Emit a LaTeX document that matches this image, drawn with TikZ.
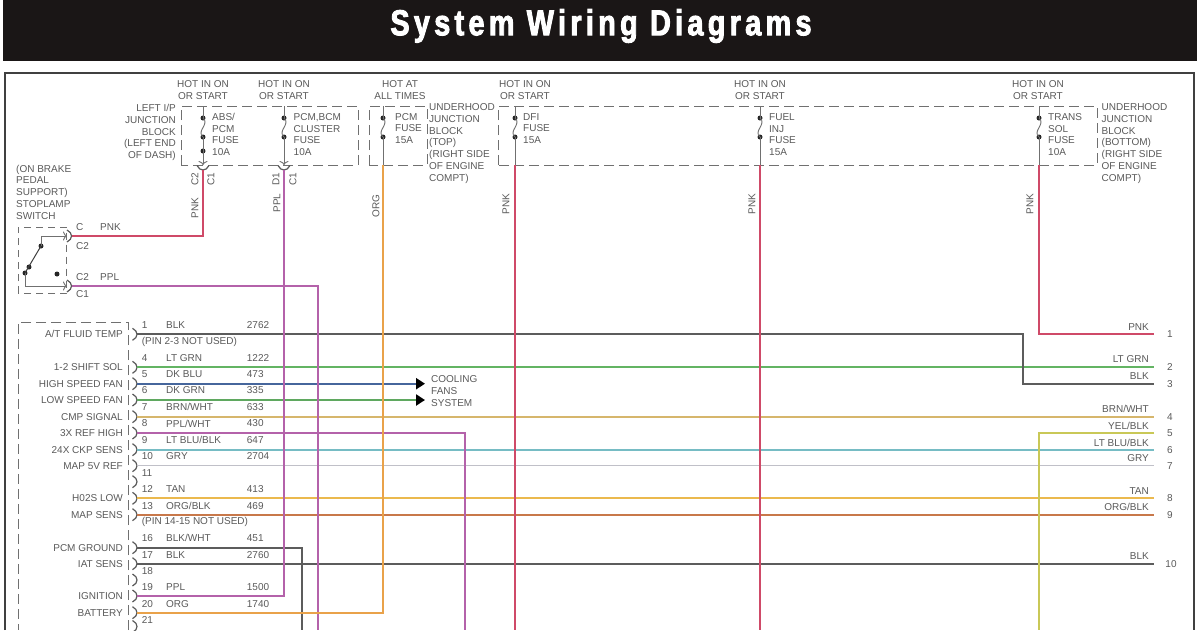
\documentclass[tikz,border=0pt]{standalone}
\usepackage{fontspec}
\setmainfont{Liberation Sans}
\newfontfamily\titlefont[FakeStretch=0.8,LetterSpace=12,FakeBold=2.5]{Liberation Sans Bold}
\usetikzlibrary{arrows, arrows.meta}
\definecolor{headblack}{HTML}{1A1616}
\definecolor{inkgray}{HTML}{5A5A5A}
\definecolor{dashgray}{HTML}{707070}
\definecolor{wpnk}{HTML}{CF4A68}
\definecolor{wppl}{HTML}{B462AA}
\definecolor{worg}{HTML}{E9A24A}
\definecolor{wblk}{HTML}{5C5C5C}
\definecolor{wltgrn}{HTML}{63B463}
\definecolor{wdkblu}{HTML}{46669C}
\definecolor{wdkgrn}{HTML}{5FA860}
\definecolor{wbrn}{HTML}{D6B66C}
\definecolor{wyel}{HTML}{C9C857}
\definecolor{wltblu}{HTML}{76BCC4}
\definecolor{wgry}{HTML}{C0C0C8}
\definecolor{wtan}{HTML}{EBB94E}
\definecolor{worgblk}{HTML}{C8784A}
\tikzstyle{lbl} = [inner sep=0pt,
text=inkgray,
align=left,
anchor=west,
font=\fontsize{10}{11.75}\selectfont]
\tikzstyle{lblr} = [lbl, align=right, anchor=east]
\tikzstyle{lblc} = [lbl, align=center, anchor=center]
\tikzstyle{lblv} = [lbl, anchor=center, rotate=90]
\tikzstyle{dot} = [circle, fill=black!85, inner sep=0pt, minimum size=5pt]
\tikzstyle{fine} = [draw=dashgray, line width=0.9pt]
\tikzstyle{blockline} = [draw=dashgray, line width=1pt, dash pattern=on 10pt off 5pt]
\tikzstyle{wire} = [line width=2.2pt]
\tikzstyle{tip} = [fine, -{To[length=4pt,width=9pt]}]
\tikzstyle{fanarrow} = [wire, -{Triangle[length=9pt,width=11pt,fill=black,color=black]}]
\tikzset{pinmark/.pic={\draw [draw=inkgray, line width=1.2pt] (-2.5,-6) .. controls (3.5,-3) and (3.5,3) .. (-2.5,6);}}

\begin{document}
\begin{tikzpicture}[x=1pt,y=-1pt]
    \useasboundingbox (0,0) rectangle (1200,630);
    \fill [fill=white] (0,0) rectangle (1200,630);
    \fill [fill=headblack] (3,0) rectangle (1197,61);
    \node (title) [text=white, inner sep=0pt, font=\titlefont\fontsize{36}{36}\selectfont] at (601,26) {System Wiring Diagrams};
    \draw [draw=black!75, line width=2pt] (5,630) -- (5,72.5) -- (1194,72.5) -- (1194,630);

    \node (hot1) [lblc] at (203,90) {HOT IN ON\\OR START};
    \node (hot2) [lblc] at (284,90) {HOT IN ON\\OR START};
    \node (hot3) [lblc] at (400,90) {HOT AT\\ALL TIMES};
    \node (hot4) [lblc] at (525,90) {HOT IN ON\\OR START};
    \node (hot5) [lblc] at (760,90) {HOT IN ON\\OR START};
    \node (hot6) [lblc] at (1038,90) {HOT IN ON\\OR START};

    \draw [blockline] (181,165) -- (181,106) -- (358,106) -- (358,165) -- cycle;
    \draw [blockline] (369,165) -- (369,106) -- (427,106) -- (427,165) -- cycle;
    \draw [blockline] (498,165) -- (498,106) -- (1097,106) -- (1097,165) -- cycle;

    \node (leftblock) [lblr] at (176,132.5) {LEFT I/P\\JUNCTION\\BLOCK\\(LEFT END\\OF DASH)};
    \node (topblock) [lbl] at (429,143.5) {UNDERHOOD\\JUNCTION\\BLOCK\\(TOP)\\(RIGHT SIDE\\OF ENGINE\\COMPT)};
    \node (botblock) [lbl] at (1101.5,143.5) {UNDERHOOD\\JUNCTION\\BLOCK\\(BOTTOM)\\(RIGHT SIDE\\OF ENGINE\\COMPT)};

    \node (absname) [lbl] at (212,134.5) {ABS/\\PCM\\FUSE\\10A};
    \node (bcmname) [lbl] at (293.5,134.5) {PCM,BCM\\CLUSTER\\FUSE\\10A};
    \node (pcmname) [lbl] at (395,128.5) {PCM\\FUSE\\15A};
    \node (dfiname) [lbl] at (523,128.5) {DFI\\FUSE\\15A};
    \node (fuelname) [lbl] at (769,134.5) {FUEL\\INJ\\FUSE\\15A};
    \node (transname) [lbl] at (1048,134.5) {TRANS\\SOL\\FUSE\\10A};

    \coordinate (abstop) at (203,106);
    \node (abst) [dot] at (203,118) {};
    \node (absb) [dot] at (203,137) {};
    \node (absc) [dot] at (203,151) {};
    \coordinate (absend) at (203,165);
    \draw [fine] (abstop) -- (abst.center);
    \draw [fine] (abst.center) .. controls +(7,6) and +(-7,-6) .. (absb.center);
    \draw [fine] (absb.center) -- (absc.center);
    \draw [tip] (absc.center) -- (absend);
    \pic [rotate=-90] at (203,168) {pinmark};

    \coordinate (bcmtop) at (284,106);
    \node (bcmt) [dot] at (284,118) {};
    \node (bcmb) [dot] at (284,137) {};
    \coordinate (bcmend) at (284,165);
    \draw [fine] (bcmtop) -- (bcmt.center);
    \draw [fine] (bcmt.center) .. controls +(7,6) and +(-7,-6) .. (bcmb.center);
    \draw [tip] (bcmb.center) -- (bcmend);
    \pic [rotate=-90] at (284,168) {pinmark};

    \coordinate (pcmtop) at (383,106);
    \node (pcmt) [dot] at (383,118) {};
    \node (pcmb) [dot] at (383,137) {};
    \coordinate (pcmend) at (383,165);
    \draw [fine] (pcmtop) -- (pcmt.center);
    \draw [fine] (pcmt.center) .. controls +(7,6) and +(-7,-6) .. (pcmb.center);
    \draw [fine] (pcmb.center) -- (pcmend);

    \coordinate (dfitop) at (515,106);
    \node (dfit) [dot] at (515,118) {};
    \node (dfib) [dot] at (515,137) {};
    \coordinate (dfiend) at (515,165);
    \draw [fine] (dfitop) -- (dfit.center);
    \draw [fine] (dfit.center) .. controls +(7,6) and +(-7,-6) .. (dfib.center);
    \draw [fine] (dfib.center) -- (dfiend);

    \coordinate (fueltop) at (760,106);
    \node (fuelt) [dot] at (760,118) {};
    \node (fuelb) [dot] at (760,137) {};
    \coordinate (fuelend) at (760,165);
    \draw [fine] (fueltop) -- (fuelt.center);
    \draw [fine] (fuelt.center) .. controls +(7,6) and +(-7,-6) .. (fuelb.center);
    \draw [fine] (fuelb.center) -- (fuelend);

    \coordinate (transtop) at (1039,106);
    \node (transt) [dot] at (1039,118) {};
    \node (transb) [dot] at (1039,137) {};
    \coordinate (transend) at (1039,165);
    \draw [fine] (transtop) -- (transt.center);
    \draw [fine] (transt.center) .. controls +(7,6) and +(-7,-6) .. (transb.center);
    \draw [fine] (transb.center) -- (transend);

    \node (c2a) [lblv] at (195,179) {C2};
    \node (c1a) [lblv] at (211,179) {C1};
    \node (pnka) [lblv] at (195,208) {PNK};
    \node (d1b) [lblv] at (276,179) {D1};
    \node (c1b) [lblv] at (293,179) {C1};
    \node (pplb) [lblv] at (277,203) {PPL};
    \node (orgc) [lblv] at (376,206) {ORG};
    \node (pnkd) [lblv] at (506,204) {PNK};
    \node (pnke) [lblv] at (752,204) {PNK};
    \node (pnkf) [lblv] at (1030,204) {PNK};

    \node (brakenote) [lbl] at (16,192) {(ON BRAKE\\PEDAL\\SUPPORT)\\STOPLAMP\\SWITCH};
    \draw [blockline, dash pattern=on 7pt off 5pt] (18,293) -- (18,227) -- (66.5,227) -- (66.5,293) -- cycle;
    \node (swpivot) [dot] at (25,273) {};
    \node (swblade) [dot] at (29,267) {};
    \node (swtop) [dot] at (41,246) {};
    \node (swopen) [dot] at (57,274) {};
    \coordinate (swbenda) at (41,236);
    \coordinate (swenda) at (67,236);
    \coordinate (swbendb) at (25,286);
    \coordinate (swendb) at (67,286);
    \draw [draw=black!75, line width=1pt] (swpivot.center) -- (swtop.center);
    \draw [fine] (swtop.center) -- (swbenda);
    \draw [tip] (swbenda) -- (swenda);
    \draw [fine] (swpivot.center) -- (swbendb);
    \draw [tip] (swbendb) -- (swendb);
    \pic at (69.5,236) {pinmark};
    \pic at (69.5,286) {pinmark};
    \node (swc) [lbl] at (76,227) {C};
    \node (swpnk) [lbl] at (100,227) {PNK};
    \node (swca) [lbl] at (76,246) {C2};
    \node (swcb) [lbl] at (76,277) {C2};
    \node (swppl) [lbl] at (100,277) {PPL};
    \node (swcc) [lbl] at (76,294) {C1};

    \draw [blockline] (128,630) -- (128,322) -- (18,322) -- (18,630);

    \node (fluid) [lblr] at (123,334.3) {A/T FLUID TEMP};
    \node (shift) [lblr] at (123,367.3) {1-2 SHIFT SOL};
    \node (hifan) [lblr] at (123,383.7) {HIGH SPEED FAN};
    \node (lofan) [lblr] at (123,400) {LOW SPEED FAN};
    \node (cmp) [lblr] at (123,416.7) {CMP SIGNAL};
    \node (refhi) [lblr] at (123,433) {3X REF HIGH};
    \node (ckp) [lblr] at (123,449.7) {24X CKP SENS};
    \node (mapref) [lblr] at (123,465.7) {MAP 5V REF};
    \node (hotwos) [lblr] at (123,498.3) {H02S LOW};
    \node (mapsens) [lblr] at (123,514.7) {MAP SENS};
    \node (pcmgnd) [lblr] at (123,547.7) {PCM GROUND};
    \node (iat) [lblr] at (123,563.7) {IAT SENS};
    \node (ign) [lblr] at (123,596) {IGNITION};
    \node (batt) [lblr] at (123,612.7) {BATTERY};

    \node (num1) [lbl] at (141.7,325) {1};
    \node (name1) [lbl] at (166,325) {BLK};
    \node (code1) [lbl] at (246.7,325) {2762};
    \node (skipa) [lbl] at (141.7,341.7) {(PIN 2-3 NOT USED)};
    \node (num4) [lbl] at (141.7,357.7) {4};
    \node (name4) [lbl] at (166,357.7) {LT GRN};
    \node (code4) [lbl] at (246.7,357.7) {1222};
    \node (num5) [lbl] at (141.7,374.3) {5};
    \node (name5) [lbl] at (166,374.3) {DK BLU};
    \node (code5) [lbl] at (246.7,374.3) {473};
    \node (num6) [lbl] at (141.7,390.5) {6};
    \node (name6) [lbl] at (166,390.5) {DK GRN};
    \node (code6) [lbl] at (246.7,390.5) {335};
    \node (num7) [lbl] at (141.7,407) {7};
    \node (name7) [lbl] at (166,407) {BRN/WHT};
    \node (code7) [lbl] at (246.7,407) {633};
    \node (num8) [lbl] at (141.7,423.5) {8};
    \node (name8) [lbl] at (166,423.5) {PPL/WHT};
    \node (code8) [lbl] at (246.7,423.5) {430};
    \node (num9) [lbl] at (141.7,440) {9};
    \node (name9) [lbl] at (166,440) {LT BLU/BLK};
    \node (code9) [lbl] at (246.7,440) {647};
    \node (num10) [lbl] at (141.7,456) {10};
    \node (name10) [lbl] at (166,456) {GRY};
    \node (code10) [lbl] at (246.7,456) {2704};
    \node (num11) [lbl] at (141.7,472.7) {11};
    \node (num12) [lbl] at (141.7,489) {12};
    \node (name12) [lbl] at (166,489) {TAN};
    \node (code12) [lbl] at (246.7,489) {413};
    \node (num13) [lbl] at (141.7,505.7) {13};
    \node (name13) [lbl] at (166,505.7) {ORG/BLK};
    \node (code13) [lbl] at (246.7,505.7) {469};
    \node (skipb) [lbl] at (141.7,522) {(PIN 14-15 NOT USED)};
    \node (num16) [lbl] at (141.7,538) {16};
    \node (name16) [lbl] at (166,538) {BLK/WHT};
    \node (code16) [lbl] at (246.7,538) {451};
    \node (num17) [lbl] at (141.7,554.7) {17};
    \node (name17) [lbl] at (166,554.7) {BLK};
    \node (code17) [lbl] at (246.7,554.7) {2760};
    \node (num18) [lbl] at (141.7,571) {18};
    \node (num19) [lbl] at (141.7,587) {19};
    \node (name19) [lbl] at (166,587) {PPL};
    \node (code19) [lbl] at (246.7,587) {1500};
    \node (num20) [lbl] at (141.7,603.7) {20};
    \node (name20) [lbl] at (166,603.7) {ORG};
    \node (code20) [lbl] at (246.7,603.7) {1740};
    \node (num21) [lbl] at (141.7,620) {21};

    \pic at (135,334.3) {pinmark};
    \pic at (135,367.3) {pinmark};
    \pic at (135,383.7) {pinmark};
    \pic at (135,400) {pinmark};
    \pic at (135,416.7) {pinmark};
    \pic at (135,433) {pinmark};
    \pic at (135,449.7) {pinmark};
    \pic at (135,465.7) {pinmark};
    \pic at (135,481.7) {pinmark};
    \pic at (135,498.3) {pinmark};
    \pic at (135,514.7) {pinmark};
    \pic at (135,547.7) {pinmark};
    \pic at (135,563.7) {pinmark};
    \pic at (135,580) {pinmark};
    \pic at (135,596) {pinmark};
    \pic at (135,612.7) {pinmark};
    \pic at (135,626.5) {pinmark};

    \coordinate (pina) at (137,334.3);
    \coordinate (pinb) at (137,367.3);
    \coordinate (pinc) at (137,383.7);
    \coordinate (pind) at (137,400);
    \coordinate (pine) at (137,416.7);
    \coordinate (pinf) at (137,433);
    \coordinate (ping) at (137,449.7);
    \coordinate (pinh) at (137,465.7);
    \coordinate (pini) at (137,498.3);
    \coordinate (pinj) at (137,514.7);
    \coordinate (pink) at (137,547.7);
    \coordinate (pinl) at (137,563.7);
    \coordinate (pinm) at (137,596);
    \coordinate (pinn) at (137,612.7);

    \coordinate (enda) at (1154,334.3);
    \coordinate (endb) at (1154,367.3);
    \coordinate (endc) at (1154,383.7);
    \coordinate (endd) at (1154,416.7);
    \coordinate (ende) at (1154,433);
    \coordinate (endf) at (1154,449.7);
    \coordinate (endg) at (1154,465.7);
    \coordinate (endh) at (1154,498.3);
    \coordinate (endi) at (1154,514.7);
    \coordinate (endj) at (1154,563.7);

    \coordinate (absin) at (203,170);
    \coordinate (bcmin) at (284,170);
    \coordinate (swouta) at (72,236);
    \coordinate (swoutb) at (72,286);
    \coordinate (switchdown) at (318,630);
    \coordinate (blkbend) at (1022.7,383.7);
    \coordinate (fanhi) at (425,383.7);
    \coordinate (fanlo) at (425,400);
    \coordinate (refdown) at (465,630);
    \coordinate (gnddown) at (301.7,630);
    \coordinate (dfidown) at (515,630);
    \coordinate (fueldown) at (760,630);
    \coordinate (yeldown) at (1039,630);

    \draw [wire, wltgrn] (pinb) -- (endb);
    \draw [wire, wbrn] (pine) -- (endd);
    \draw [wire, wltblu] (ping) -- (endf);
    \draw [wire, wgry, line width=1.3pt] (pinh) -- (endg);
    \draw [wire, wtan] (pini) -- (endh);
    \draw [wire, worgblk] (pinj) -- (endi);
    \draw [wire, wblk] (pinl) -- (endj);
    \draw [wire, wblk] (pina) -| (blkbend) -- (endc);
    \draw [fanarrow, wdkblu] (pinc) -- (fanhi);
    \draw [fanarrow, wdkgrn] (pind) -- (fanlo);
    \draw [wire, wppl] (pinf) -| (refdown);
    \draw [wire, wblk] (pink) -| (gnddown);
    \draw [wire, wpnk] (absin) |- (swouta);
    \draw [wire, wppl] (swoutb) -| (switchdown);
    \draw [wire, wppl] (bcmin) |- (pinm);
    \draw [wire, worg] (pcmend) |- (pinn);
    \draw [wire, wpnk] (dfiend) -- (dfidown);
    \draw [wire, wpnk] (fuelend) -- (fueldown);
    \draw [wire, wpnk] (transend) |- (enda);
    \draw [wire, wyel] (ende) -| (yeldown);

    \node (cooling) [lbl] at (431,391) {COOLING\\FANS\\SYSTEM};

    \node (rname1) [lblr] at (1149,326.7) {PNK};
    \node (rname2) [lblr] at (1149,359) {LT GRN};
    \node (rname3) [lblr] at (1149,375.7) {BLK};
    \node (rname4) [lblr] at (1149,409) {BRN/WHT};
    \node (rname5) [lblr] at (1149,426) {YEL/BLK};
    \node (rname6) [lblr] at (1149,442.6) {LT BLU/BLK};
    \node (rname7) [lblr] at (1149,458) {GRY};
    \node (rname8) [lblr] at (1149,491) {TAN};
    \node (rname9) [lblr] at (1149,507) {ORG/BLK};
    \node (rname10) [lblr] at (1149,556) {BLK};
    \node (term1) [lblc] at (1170,334.3) {1};
    \node (term2) [lblc] at (1170,367.3) {2};
    \node (term3) [lblc] at (1170,383.7) {3};
    \node (term4) [lblc] at (1170,416.7) {4};
    \node (term5) [lblc] at (1170,433) {5};
    \node (term6) [lblc] at (1170,449.7) {6};
    \node (term7) [lblc] at (1170,465.7) {7};
    \node (term8) [lblc] at (1170,498.3) {8};
    \node (term9) [lblc] at (1170,514.7) {9};
    \node (term10) [lblc] at (1171,563.7) {10};

\end{tikzpicture}
\end{document}
